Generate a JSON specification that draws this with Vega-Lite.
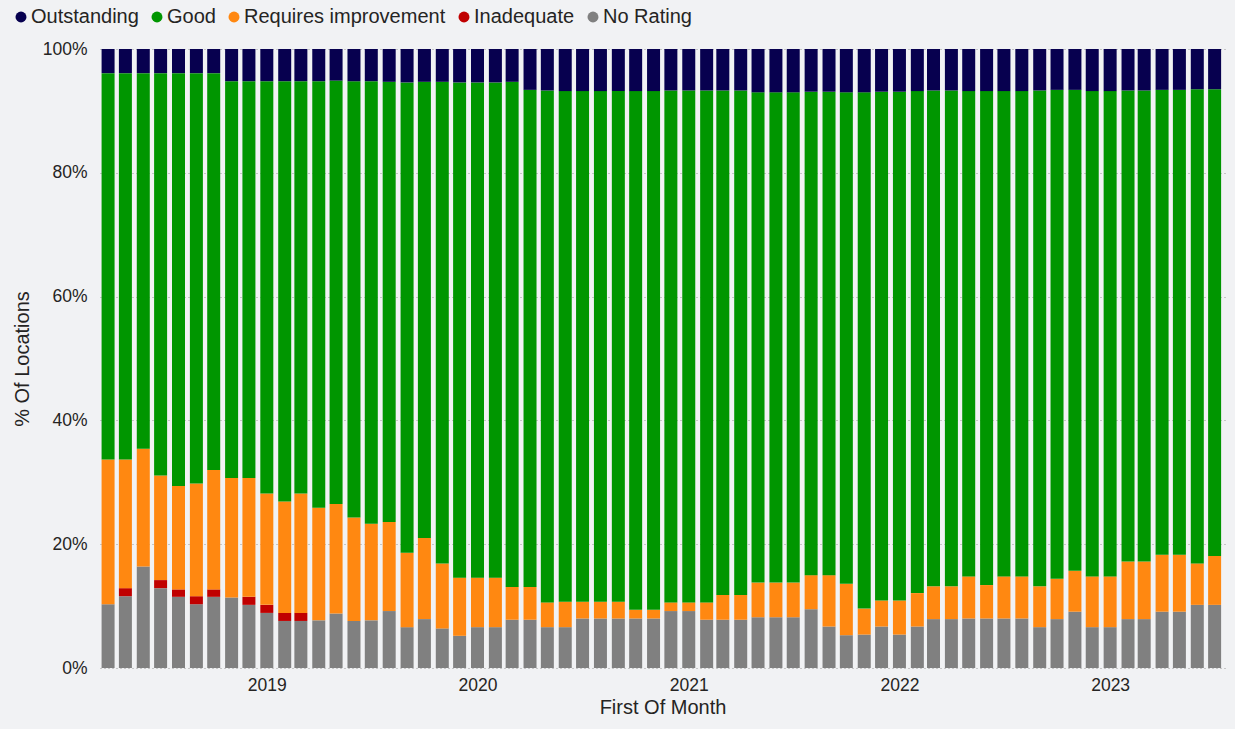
{
  "$schema": "https://vega.github.io/schema/vega-lite/v6.json",
  "width": 1125,
  "height": 619,
  "autosize": "none",
  "padding": {"left": 100, "top": 49, "right": 10, "bottom": 61},
  "background": "#f1f2f4",
  "config": {
    "view": {"stroke": null},
    "font": "Liberation Sans",
    "axis": {"labelColor": "#252423", "titleColor": "#252423", "titleFontWeight": "normal", "domain": false, "ticks": false}
  },
  "data": {"values": [
    {"month": "2018-04-01", "No Rating": 10.3, "Inadequate": 0, "Requires improvement": 23.4, "Good": 62.4, "Outstanding": 3.9},
    {"month": "2018-05-01", "No Rating": 11.6, "Inadequate": 1.3, "Requires improvement": 20.8, "Good": 62.4, "Outstanding": 3.9},
    {"month": "2018-06-01", "No Rating": 16.4, "Inadequate": 0, "Requires improvement": 19.0, "Good": 60.7, "Outstanding": 3.9},
    {"month": "2018-07-01", "No Rating": 12.9, "Inadequate": 1.3, "Requires improvement": 16.9, "Good": 65.0, "Outstanding": 3.9},
    {"month": "2018-08-01", "No Rating": 11.5, "Inadequate": 1.2, "Requires improvement": 16.7, "Good": 66.7, "Outstanding": 3.9},
    {"month": "2018-09-01", "No Rating": 10.3, "Inadequate": 1.3, "Requires improvement": 18.2, "Good": 66.3, "Outstanding": 3.9},
    {"month": "2018-10-01", "No Rating": 11.5, "Inadequate": 1.2, "Requires improvement": 19.3, "Good": 64.1, "Outstanding": 3.9},
    {"month": "2018-11-01", "No Rating": 11.4, "Inadequate": 0, "Requires improvement": 19.3, "Good": 64.1, "Outstanding": 5.2},
    {"month": "2018-12-01", "No Rating": 10.2, "Inadequate": 1.3, "Requires improvement": 19.2, "Good": 64.1, "Outstanding": 5.2},
    {"month": "2019-01-01", "No Rating": 8.9, "Inadequate": 1.3, "Requires improvement": 18.0, "Good": 66.6, "Outstanding": 5.2},
    {"month": "2019-02-01", "No Rating": 7.6, "Inadequate": 1.3, "Requires improvement": 18.0, "Good": 67.9, "Outstanding": 5.2},
    {"month": "2019-03-01", "No Rating": 7.6, "Inadequate": 1.3, "Requires improvement": 19.3, "Good": 66.6, "Outstanding": 5.2},
    {"month": "2019-04-01", "No Rating": 7.7, "Inadequate": 0, "Requires improvement": 18.2, "Good": 68.9, "Outstanding": 5.2},
    {"month": "2019-05-01", "No Rating": 8.8, "Inadequate": 0, "Requires improvement": 17.7, "Good": 68.4, "Outstanding": 5.1},
    {"month": "2019-06-01", "No Rating": 7.6, "Inadequate": 0, "Requires improvement": 16.7, "Good": 70.5, "Outstanding": 5.2},
    {"month": "2019-07-01", "No Rating": 7.7, "Inadequate": 0, "Requires improvement": 15.6, "Good": 71.5, "Outstanding": 5.2},
    {"month": "2019-08-01", "No Rating": 9.2, "Inadequate": 0, "Requires improvement": 14.4, "Good": 71.1, "Outstanding": 5.3},
    {"month": "2019-09-01", "No Rating": 6.6, "Inadequate": 0, "Requires improvement": 12.0, "Good": 76.0, "Outstanding": 5.4},
    {"month": "2019-10-01", "No Rating": 7.9, "Inadequate": 0, "Requires improvement": 13.1, "Good": 73.7, "Outstanding": 5.3},
    {"month": "2019-11-01", "No Rating": 6.4, "Inadequate": 0, "Requires improvement": 10.5, "Good": 77.8, "Outstanding": 5.3},
    {"month": "2019-12-01", "No Rating": 5.2, "Inadequate": 0, "Requires improvement": 9.4, "Good": 80.0, "Outstanding": 5.4},
    {"month": "2020-01-01", "No Rating": 6.6, "Inadequate": 0, "Requires improvement": 8.0, "Good": 80.0, "Outstanding": 5.4},
    {"month": "2020-02-01", "No Rating": 6.6, "Inadequate": 0, "Requires improvement": 8.0, "Good": 80.0, "Outstanding": 5.4},
    {"month": "2020-03-01", "No Rating": 7.8, "Inadequate": 0, "Requires improvement": 5.3, "Good": 81.6, "Outstanding": 5.3},
    {"month": "2020-04-01", "No Rating": 7.8, "Inadequate": 0, "Requires improvement": 5.3, "Good": 80.3, "Outstanding": 6.6},
    {"month": "2020-05-01", "No Rating": 6.6, "Inadequate": 0, "Requires improvement": 4.0, "Good": 82.7, "Outstanding": 6.7},
    {"month": "2020-06-01", "No Rating": 6.6, "Inadequate": 0, "Requires improvement": 4.1, "Good": 82.5, "Outstanding": 6.8},
    {"month": "2020-07-01", "No Rating": 8.0, "Inadequate": 0, "Requires improvement": 2.7, "Good": 82.5, "Outstanding": 6.8},
    {"month": "2020-08-01", "No Rating": 8.0, "Inadequate": 0, "Requires improvement": 2.7, "Good": 82.5, "Outstanding": 6.8},
    {"month": "2020-09-01", "No Rating": 8.0, "Inadequate": 0, "Requires improvement": 2.7, "Good": 82.5, "Outstanding": 6.8},
    {"month": "2020-10-01", "No Rating": 8.0, "Inadequate": 0, "Requires improvement": 1.4, "Good": 83.8, "Outstanding": 6.8},
    {"month": "2020-11-01", "No Rating": 8.0, "Inadequate": 0, "Requires improvement": 1.4, "Good": 83.8, "Outstanding": 6.8},
    {"month": "2020-12-01", "No Rating": 9.2, "Inadequate": 0, "Requires improvement": 1.4, "Good": 82.7, "Outstanding": 6.7},
    {"month": "2021-01-01", "No Rating": 9.2, "Inadequate": 0, "Requires improvement": 1.4, "Good": 82.7, "Outstanding": 6.7},
    {"month": "2021-02-01", "No Rating": 7.8, "Inadequate": 0, "Requires improvement": 2.8, "Good": 82.7, "Outstanding": 6.7},
    {"month": "2021-03-01", "No Rating": 7.8, "Inadequate": 0, "Requires improvement": 4.0, "Good": 81.5, "Outstanding": 6.7},
    {"month": "2021-04-01", "No Rating": 7.8, "Inadequate": 0, "Requires improvement": 4.0, "Good": 81.5, "Outstanding": 6.7},
    {"month": "2021-05-01", "No Rating": 8.2, "Inadequate": 0, "Requires improvement": 5.6, "Good": 79.2, "Outstanding": 7.0},
    {"month": "2021-06-01", "No Rating": 8.2, "Inadequate": 0, "Requires improvement": 5.6, "Good": 79.2, "Outstanding": 7.0},
    {"month": "2021-07-01", "No Rating": 8.2, "Inadequate": 0, "Requires improvement": 5.6, "Good": 79.2, "Outstanding": 7.0},
    {"month": "2021-08-01", "No Rating": 9.5, "Inadequate": 0, "Requires improvement": 5.5, "Good": 78.1, "Outstanding": 6.9},
    {"month": "2021-09-01", "No Rating": 6.7, "Inadequate": 0, "Requires improvement": 8.3, "Good": 78.1, "Outstanding": 6.9},
    {"month": "2021-10-01", "No Rating": 5.3, "Inadequate": 0, "Requires improvement": 8.3, "Good": 79.4, "Outstanding": 7.0},
    {"month": "2021-11-01", "No Rating": 5.4, "Inadequate": 0, "Requires improvement": 4.2, "Good": 83.4, "Outstanding": 7.0},
    {"month": "2021-12-01", "No Rating": 6.7, "Inadequate": 0, "Requires improvement": 4.2, "Good": 82.2, "Outstanding": 6.9},
    {"month": "2022-01-01", "No Rating": 5.4, "Inadequate": 0, "Requires improvement": 5.5, "Good": 82.2, "Outstanding": 6.9},
    {"month": "2022-02-01", "No Rating": 6.7, "Inadequate": 0, "Requires improvement": 5.4, "Good": 81.1, "Outstanding": 6.8},
    {"month": "2022-03-01", "No Rating": 7.9, "Inadequate": 0, "Requires improvement": 5.3, "Good": 80.1, "Outstanding": 6.7},
    {"month": "2022-04-01", "No Rating": 7.9, "Inadequate": 0, "Requires improvement": 5.3, "Good": 80.1, "Outstanding": 6.7},
    {"month": "2022-05-01", "No Rating": 8.0, "Inadequate": 0, "Requires improvement": 6.8, "Good": 78.4, "Outstanding": 6.8},
    {"month": "2022-06-01", "No Rating": 8.0, "Inadequate": 0, "Requires improvement": 5.4, "Good": 79.8, "Outstanding": 6.8},
    {"month": "2022-07-01", "No Rating": 8.0, "Inadequate": 0, "Requires improvement": 6.8, "Good": 78.4, "Outstanding": 6.8},
    {"month": "2022-08-01", "No Rating": 8.0, "Inadequate": 0, "Requires improvement": 6.8, "Good": 78.4, "Outstanding": 6.8},
    {"month": "2022-09-01", "No Rating": 6.6, "Inadequate": 0, "Requires improvement": 6.6, "Good": 80.1, "Outstanding": 6.7},
    {"month": "2022-10-01", "No Rating": 7.9, "Inadequate": 0, "Requires improvement": 6.5, "Good": 79.0, "Outstanding": 6.6},
    {"month": "2022-11-01", "No Rating": 9.1, "Inadequate": 0, "Requires improvement": 6.6, "Good": 77.7, "Outstanding": 6.6},
    {"month": "2022-12-01", "No Rating": 6.6, "Inadequate": 0, "Requires improvement": 8.2, "Good": 78.4, "Outstanding": 6.8},
    {"month": "2023-01-01", "No Rating": 6.6, "Inadequate": 0, "Requires improvement": 8.2, "Good": 78.4, "Outstanding": 6.8},
    {"month": "2023-02-01", "No Rating": 7.9, "Inadequate": 0, "Requires improvement": 9.3, "Good": 76.1, "Outstanding": 6.7},
    {"month": "2023-03-01", "No Rating": 7.9, "Inadequate": 0, "Requires improvement": 9.3, "Good": 76.1, "Outstanding": 6.7},
    {"month": "2023-04-01", "No Rating": 9.1, "Inadequate": 0, "Requires improvement": 9.2, "Good": 75.1, "Outstanding": 6.6},
    {"month": "2023-05-01", "No Rating": 9.1, "Inadequate": 0, "Requires improvement": 9.2, "Good": 75.1, "Outstanding": 6.6},
    {"month": "2023-06-01", "No Rating": 10.2, "Inadequate": 0, "Requires improvement": 6.7, "Good": 76.6, "Outstanding": 6.5},
    {"month": "2023-07-01", "No Rating": 10.2, "Inadequate": 0, "Requires improvement": 7.9, "Good": 75.4, "Outstanding": 6.5}
  ]},
  "transform": [
    {"fold": ["No Rating", "Inadequate", "Requires improvement", "Good", "Outstanding"], "as": ["Status", "pct"]},
    {"calculate": "indexof(['No Rating', 'Inadequate', 'Requires improvement', 'Good', 'Outstanding'], datum.Status)", "as": "stackOrder"}
  ],
  "mark": {"type": "bar", "width": 13},
  "encoding": {
    "x": {
      "field": "month", "type": "temporal",
      "scale": {"nice": false, "padding": 0, "domain": [{"year": 2018, "month": 3, "date": 18}, {"year": 2023, "month": 7, "date": 19}]},
      "axis": {"format": "%Y", "tickCount": {"interval": "year", "step": 1}, "grid": false, "labelFontSize": 17.5, "labelPadding": 8, "title": "First Of Month", "titleFontSize": 20, "titlePadding": 4}
    },
    "y": {
      "field": "pct", "type": "quantitative", "stack": "zero",
      "scale": {"domain": [0, 100]},
      "axis": {"values": [0, 20, 40, 60, 80, 100], "labelExpr": "datum.value + '%'", "grid": true, "gridDash": [1, 3], "gridColor": "#9a9a9a", "labelFontSize": 17.5, "labelPadding": 13, "title": "% Of Locations", "titleFontSize": 20, "titlePadding": 10}
    },
    "order": {"field": "stackOrder", "type": "quantitative", "sort": "ascending"},
    "color": {
      "field": "Status", "type": "nominal",
      "scale": {"domain": ["No Rating", "Inadequate", "Requires improvement", "Good", "Outstanding"], "range": ["#808080", "#c00000", "#ff8811", "#009600", "#07004f"]},
      "legend": {"values": ["Outstanding", "Good", "Requires improvement", "Inadequate", "No Rating"], "orient": "none", "direction": "horizontal", "legendX": -89, "legendY": -42, "title": null, "symbolType": "circle", "symbolSize": 120, "symbolStrokeWidth": 0, "symbolOpacity": 1, "labelFontSize": 20, "labelColor": "#252423", "labelOffset": 0, "labelLimit": 0, "columnPadding": 8, "padding": 0}
    }
  }
}
